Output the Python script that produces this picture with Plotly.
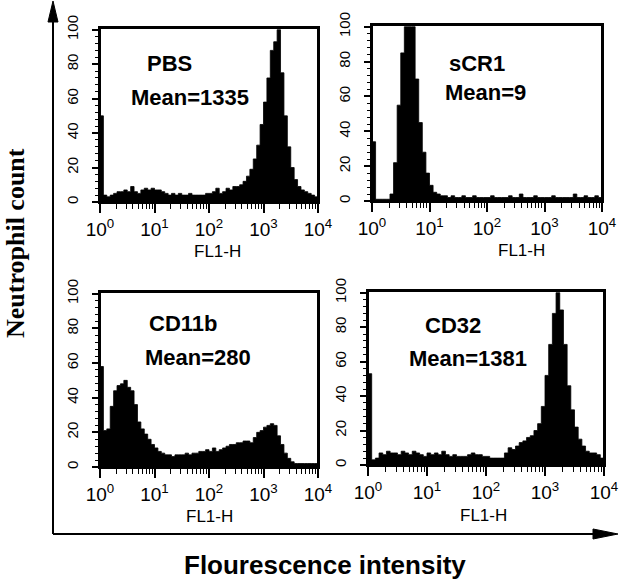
import plotly.graph_objects as go

# Histogram counts: 64 channels spanning 10^0 .. 10^4 (16 per decade)
pbs = [50, 4, 3, 4, 5, 6, 6, 7, 6, 9, 6, 5, 7, 8, 7, 8,
       7, 7, 6, 5, 4, 5, 4, 5, 4, 4, 5, 4, 4, 4, 4, 5,
       5, 6, 8, 5, 6, 8, 7, 9, 9, 10, 12, 15, 19, 25, 33, 45,
       58, 72, 88, 93, 100, 75, 50, 32, 20, 13, 9, 7, 6, 5, 4, 3]
scr1 = [34, 1, 1, 1, 1, 4, 22, 55, 85, 100, 100, 100, 70, 45, 28, 16,
        9, 5, 4, 3, 3, 2, 3, 2, 2, 3, 2, 2, 3, 2, 2, 2,
        2, 3, 2, 2, 2, 2, 3, 2, 2, 4, 2, 2, 2, 3, 2, 2,
        2, 2, 3, 2, 2, 2, 2, 2, 4, 2, 2, 3, 2, 2, 3, 2]
cd11b = [58, 21, 22, 35, 44, 47, 48, 50, 46, 44, 36, 26, 22, 19, 16, 13,
         11, 9, 8, 7, 7, 6, 7, 7, 7, 8, 7, 8, 8, 9, 9, 10,
         9, 11, 9, 10, 11, 12, 13, 13, 14, 14, 15, 15, 14, 17, 20, 21,
         23, 24, 25, 24, 18, 13, 8, 5, 3, 2, 2, 2, 2, 2, 2, 2]
cd32 = [53, 3, 4, 7, 6, 8, 7, 7, 6, 8, 7, 6, 8, 7, 6, 5,
        7, 6, 7, 6, 8, 6, 5, 6, 5, 5, 5, 6, 7, 6, 6, 5,
        5, 4, 4, 4, 4, 7, 10, 9, 11, 13, 14, 16, 17, 20, 24, 34,
        52, 70, 88, 100, 90, 70, 46, 32, 22, 15, 11, 8, 7, 7, 6, 4]

panel_names = ["PBS", "sCR1", "CD11b", "CD32"]
panel_means = ["Mean=1335", "Mean=9", "Mean=280", "Mean=1381"]
panel_data = [pbs, scr1, cd11b, cd32]
x_title = "FL1-H"

x_tickvals = [1, 10, 100, 1000, 10000]
x_ticktext = ["10<sup>0</sup>", "10<sup>1</sup>", "10<sup>2</sup>", "10<sup>3</sup>", "10<sup>4</sup>"]
y_tickvals = [0, 20, 40, 60, 80, 100]
y_ticktext = ["0", "20", "40", "60", "80", "100"]

n_ch = 64
edges = [10 ** (i * 4 / n_ch) for i in range(n_ch + 1)]

W, H = 619, 581
def px_x(p):
    return p / W
def px_y(p):
    return 1 - p / H

boxes = [(100, 318, 28, 202), (372, 602, 25, 201), (100, 318, 292, 467), (368, 604, 291, 465)]
name_pos = [(170, 63), (477, 63), (183, 323), (453, 325)]
mean_pos = [(190, 97), (485, 92), (198, 357), (468, 358)]
xtitle_pos = [(217, 251), (521, 250), (210, 516), (483, 515)]

fig = go.Figure()
layout = {}
annotations = []
shapes = []
for k in range(4):
    ax = "" if k == 0 else str(k + 1)
    vals = panel_data[k]
    fig.add_trace(go.Scatter(
        x=edges, y=vals + [vals[-1]],
        mode="lines", line=dict(shape="hv", color="black", width=0.8),
        fill="tozeroy", fillcolor="black",
        xaxis="x" + ax, yaxis="y" + ax, showlegend=False, hoverinfo="skip"))
    l, r, t, b = boxes[k]
    layout["xaxis" + ax] = dict(
        type="log", range=[0, 4], domain=[px_x(l), px_x(r)], anchor="y" + ax,
        tickmode="array", tickvals=x_tickvals, ticktext=x_ticktext,
        ticks="outside", ticklen=9, tickwidth=1.5, tickcolor="black",
        minor=dict(ticks="outside", ticklen=5, tickwidth=1.2, tickcolor="black", dtick="D1"),
        showline=True, linecolor="black", linewidth=2, mirror=True,
        showgrid=False, zeroline=False, automargin=False,
        tickfont=dict(family="Liberation Sans Narrow, Liberation Sans, Arial", size=19, color="black"),
    )
    layout["yaxis" + ax] = dict(
        range=[0, 101], domain=[px_y(b), px_y(t)], anchor="x" + ax,
        tickmode="array", tickvals=y_tickvals, ticktext=y_ticktext, tickangle=-90,
        ticks="outside", ticklen=6, tickwidth=1.5, tickcolor="black",
        minor=dict(ticks="outside", ticklen=3, tickwidth=1.2, tickcolor="black", dtick=4),
        showline=True, linecolor="black", linewidth=2, mirror=True,
        showgrid=False, zeroline=False, automargin=False, ticklabelstandoff=8,
        tickfont=dict(family="Liberation Sans Narrow, Liberation Sans, Arial", size=15, color="black"),
    )
    shapes.append(dict(type="rect", xref="x%s domain" % ax, yref="y%s domain" % ax,
                       x0=0, x1=1, y0=0, y1=1, line=dict(color="black", width=2), layer="above"))
    nx, ny = name_pos[k]
    mx, my = mean_pos[k]
    tx, ty = xtitle_pos[k]
    annotations.append(dict(text="<b>%s</b>" % panel_names[k], x=px_x(nx), y=px_y(ny),
                            xref="paper", yref="paper", showarrow=False,
                            xanchor="center", yanchor="middle",
                            font=dict(family="Liberation Sans, Arial", size=22, color="black")))
    annotations.append(dict(text="<b>%s</b>" % panel_means[k], x=px_x(mx), y=px_y(my),
                            xref="paper", yref="paper", showarrow=False,
                            xanchor="center", yanchor="middle",
                            font=dict(family="Liberation Sans, Arial", size=22, color="black")))
    annotations.append(dict(text=x_title, x=px_x(tx), y=px_y(ty),
                            xref="paper", yref="paper", showarrow=False,
                            xanchor="center", yanchor="middle",
                            font=dict(family="Liberation Sans, Arial", size=17, color="black")))

annotations.append(dict(text="<b>Neutrophil count</b>", x=px_x(16), y=px_y(243),
                        xref="paper", yref="paper", showarrow=False, textangle=-90,
                        xanchor="center", yanchor="middle",
                        font=dict(family="Liberation Serif, Times New Roman", size=26, color="black")))
annotations.append(dict(text="<b>Flourescence intensity</b>", x=px_x(325), y=px_y(565),
                        xref="paper", yref="paper", showarrow=False,
                        xanchor="center", yanchor="middle",
                        font=dict(family="Liberation Sans, Arial", size=26, color="black")))

shapes += [
    dict(type="line", xref="paper", yref="paper", x0=px_x(53), y0=px_y(534), x1=px_x(53), y1=px_y(18),
         line=dict(color="black", width=2)),
    dict(type="line", xref="paper", yref="paper", x0=px_x(53), y0=px_y(534), x1=px_x(600), y1=px_y(534),
         line=dict(color="black", width=2)),
    dict(type="path", xref="paper", yref="paper",
         path="M %f %f L %f %f L %f %f Z" % (px_x(53), px_y(1), px_x(48), px_y(22), px_x(58), px_y(22)),
         fillcolor="black", line=dict(color="black", width=1)),
    dict(type="path", xref="paper", yref="paper",
         path="M %f %f L %f %f L %f %f Z" % (px_x(618), px_y(534), px_x(593), px_y(529), px_x(593), px_y(539)),
         fillcolor="black", line=dict(color="black", width=1)),
]

fig.update_layout(
    width=W, height=H, margin=dict(l=0, r=0, t=0, b=0, pad=0, autoexpand=False),
    paper_bgcolor="white", plot_bgcolor="white",
    annotations=annotations, shapes=shapes, **layout)

post = "document.body.style.margin='0'; document.body.style.padding='0';"
fig.write_html("out.html", post_script=post, config={"displayModeBar": False})
